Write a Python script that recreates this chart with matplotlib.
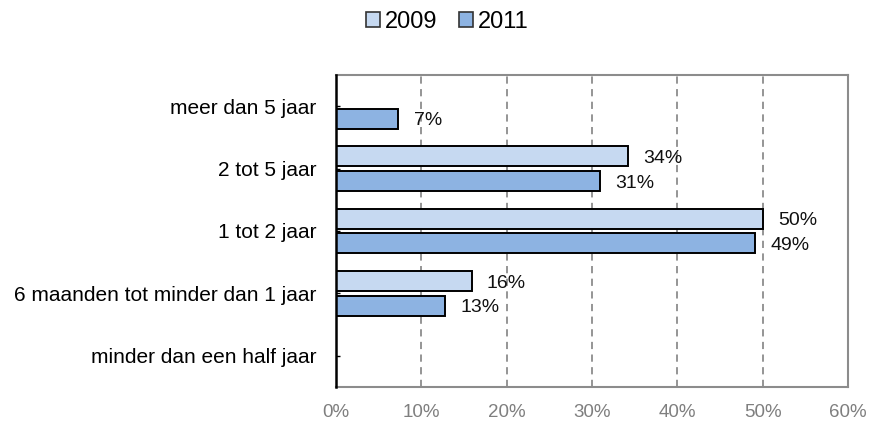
import numpy as np
import matplotlib.pyplot as plt
from matplotlib.patches import Patch

plt.rcParams['font.family'] = ['Liberation Sans', 'DejaVu Sans']

# Categorieën (van boven naar beneden)
categorieen = ['meer dan 5 jaar', '2 tot 5 jaar', '1 tot 2 jaar',
               '6 maanden tot minder dan 1 jaar', 'minder dan een half jaar']
jaren = ['2009', '2011']
waarden_2009 = [np.nan, 34.2, 50.0, 15.9, np.nan]
waarden_2011 = [7.3, 30.9, 49.1, 12.8, np.nan]
labels_2009 = ['', '34%', '50%', '16%', '']
labels_2011 = ['7%', '31%', '49%', '13%', '']
xticks = [0, 10, 20, 30, 40, 50, 60]

kleur_2009 = '#c6d9f1'
kleur_2011 = '#8db3e2'

fig = plt.figure(figsize=(8.7, 4.21), dpi=100)
ax = fig.add_axes([336 / 870, 1 - 387 / 421, (848 - 336) / 870, (387 - 75) / 421])

y = np.arange(len(categorieen))
h = 0.32
off = 0.2

ax.barh(y - off, waarden_2009, height=h, color=kleur_2009,
        edgecolor='black', linewidth=1.4, zorder=3)
ax.barh(y + off, waarden_2011, height=h, color=kleur_2011,
        edgecolor='black', linewidth=1.4, zorder=3)

# Data labels
for yy, v, lab in zip(y - off, waarden_2009, labels_2009):
    if lab:
        ax.annotate(lab, (v, yy), xytext=(11, -1.5), textcoords='offset points',
                    ha='left', va='center', fontsize=14, color='#111111')
for yy, v, lab in zip(y + off, waarden_2011, labels_2011):
    if lab:
        ax.annotate(lab, (v, yy), xytext=(11, -1.5), textcoords='offset points',
                    ha='left', va='center', fontsize=14, color='#111111')

ax.set_xlim(0, 60)
ax.set_ylim(len(categorieen) - 0.5, -0.5)
ax.set_xticks(xticks)
ax.set_xticklabels([f'{t}%' for t in xticks], fontsize=13.5, color='#7f7f7f')
ax.set_yticks(y)
ax.set_yticklabels(categorieen, fontsize=15)
ax.tick_params(axis='x', length=0, pad=12)
ax.tick_params(axis='y', direction='in', length=3, width=1, pad=14, color='black')

ax.grid(axis='x', linestyle=(0, (4, 3)), color='#8c8c8c', linewidth=1.3, zorder=0)

for s in ['top', 'right', 'bottom']:
    ax.spines[s].set_color('#8c8c8c')
    ax.spines[s].set_linewidth(1.5)
ax.spines['left'].set_color('black')
ax.spines['left'].set_linewidth(1.8)
ax.spines['left'].set_zorder(4)

handles = [Patch(facecolor=kleur_2009, edgecolor='#333333', linewidth=1.2),
           Patch(facecolor=kleur_2011, edgecolor='#333333', linewidth=1.2)]
fig.legend(handles, jaren, loc='center', bbox_to_anchor=(447 / 870, 1 - 22 / 421),
           ncol=2, frameon=False, fontsize=17, handlelength=0.6, handleheight=0.6,
           handletextpad=0.2, columnspacing=0.9)

fig.savefig('out.png', dpi=100)
